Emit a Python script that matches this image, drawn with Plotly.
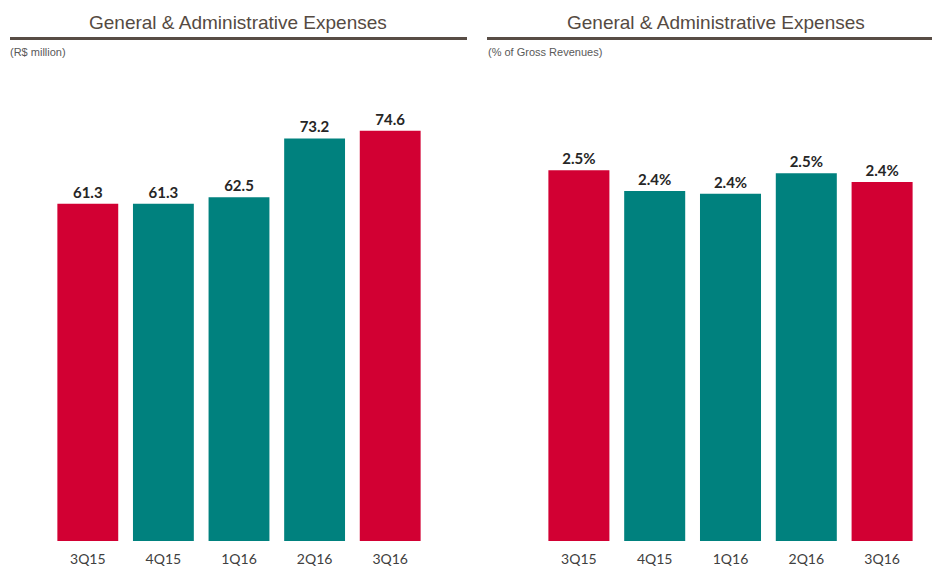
import plotly.graph_objects as go

# Quarterly general & administrative expenses
quarters = ["3Q15", "4Q15", "1Q16", "2Q16", "3Q16"]
ga_expenses_brl_mn = [61.3, 61.3, 62.5, 73.2, 74.6]
ga_pct_gross_revenue = [2.52, 2.38, 2.36, 2.50, 2.44]
bar_colors = ["#D20033", "#00817E", "#00817E", "#00817E", "#D20033"]

W, H = 932, 570
TITLE_COLOR = "#554a42"
LABEL_FONT = "Lato, Carlito, Calibri, sans-serif"


def px_x(p):
    return p / W


def px_y(p):
    return (H - p) / H


fig = go.Figure()

fig.add_trace(go.Bar(
    x=quarters, y=ga_expenses_brl_mn,
    marker=dict(color=bar_colors, line=dict(width=0)),
    texttemplate="%{y:.1f}", textposition="outside", cliponaxis=False,
    textfont=dict(family=LABEL_FONT, size=15, color="#262626", weight="bold"),
    xaxis="x", yaxis="y", hoverinfo="skip",
))

fig.add_trace(go.Bar(
    x=quarters, y=ga_pct_gross_revenue,
    marker=dict(color=bar_colors, line=dict(width=0)),
    texttemplate="%{y:.1f}%", textposition="outside", cliponaxis=False,
    textfont=dict(family=LABEL_FONT, size=15, color="#262626", weight="bold"),
    xaxis="x2", yaxis="y2", hoverinfo="skip",
))

y_dom = [px_y(541), px_y(100)]
common_x = dict(
    showgrid=False, zeroline=False, showline=False, ticks="",
    tickfont=dict(family=LABEL_FONT, size=14, color="#404040"),
    ticklabelstandoff=8, fixedrange=True,
)
common_y = dict(showgrid=False, zeroline=False, showline=False,
                showticklabels=False, ticks="", fixedrange=True)

fig.update_layout(
    width=W, height=H,
    margin=dict(l=0, r=0, t=0, b=0),
    paper_bgcolor="white", plot_bgcolor="white",
    showlegend=False,
    bargap=0.195,
    xaxis=dict(domain=[px_x(50), px_x(428)], anchor="y", **common_x),
    yaxis=dict(domain=y_dom, range=[0, 441 / 5.5], anchor="x", **common_y),
    xaxis2=dict(domain=[px_x(541), px_x(920)], anchor="y2", **common_x),
    yaxis2=dict(domain=y_dom, range=[0, 441 / 147.1], anchor="x2", **common_y),
)

# Panel headings, rules and unit notes
panels = [
    dict(title_x=238, line=(10, 467), sub_x=8, sub="(R$ million)"),
    dict(title_x=716, line=(487, 932), sub_x=486, sub="(% of Gross Revenues)"),
]
for p in panels:
    fig.add_annotation(
        text="General &amp; Administrative Expenses",
        x=px_x(p["title_x"]), y=px_y(22), xref="paper", yref="paper",
        xanchor="center", yanchor="middle", showarrow=False,
        font=dict(family="Liberation Sans, Arial, sans-serif", size=19, color=TITLE_COLOR),
    )
    fig.add_shape(
        type="line", xref="paper", yref="paper",
        x0=px_x(p["line"][0]), x1=px_x(p["line"][1]),
        y0=px_y(38.5), y1=px_y(38.5),
        line=dict(color="#584d45", width=3),
    )
    fig.add_annotation(
        text=p["sub"],
        x=px_x(p["sub_x"]), y=px_y(52), xref="paper", yref="paper",
        xanchor="left", yanchor="middle", showarrow=False,
        font=dict(family="Liberation Sans, Arial, sans-serif", size=11, color="#595959"),
    )

fig.write_html("out.html", config={"displayModeBar": False, "staticPlot": True})
